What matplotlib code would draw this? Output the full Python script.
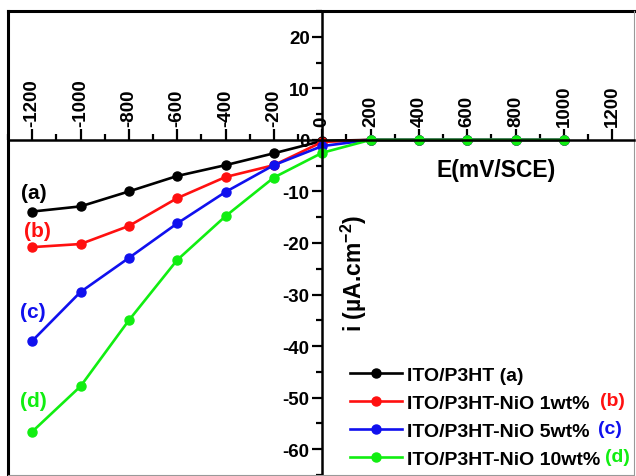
import matplotlib
matplotlib.use("Agg")
import matplotlib.pyplot as plt
from matplotlib.lines import Line2D
from matplotlib.ticker import MultipleLocator

plt.rcParams['font.family'] = ['Liberation Sans', 'DejaVu Sans']
plt.rcParams['font.weight'] = 'bold'
plt.rcParams['axes.unicode_minus'] = False
plt.rcParams['mathtext.fontset'] = 'custom'
plt.rcParams['mathtext.rm'] = 'Liberation Sans:bold'
plt.rcParams['mathtext.bf'] = 'Liberation Sans:bold'

# potential (mV/SCE) and current density (uA/cm2) for each film
potential = [-1200, -1000, -800, -600, -400, -200, 0, 200, 400, 600, 800, 1000]
i_p3ht = [-13.9, -12.9, -10.0, -7.0, -4.9, -2.6, -0.2, 0, 0, 0, 0, 0]
i_nio1 = [-20.8, -20.2, -16.7, -11.3, -7.2, -4.9, -0.4, 0, 0, 0, 0, 0]
i_nio5 = [-39.0, -29.5, -22.9, -16.2, -10.1, -4.9, -1.2, 0, 0, 0, 0, 0]
i_nio10 = [-56.6, -47.8, -35.0, -23.3, -14.8, -7.3, -2.5, 0, 0, 0, 0, 0]

labels = ['ITO/P3HT (a)', 'ITO/P3HT-NiO 1wt%', 'ITO/P3HT-NiO 5wt%', 'ITO/P3HT-NiO 10wt%']
tags = ['(a)', '(b)', '(c)', '(d)']
colors = ['#000000', '#ff1010', '#1010ee', '#11ee11']

fig = plt.figure(figsize=(6.36, 4.77), dpi=100)
ax = fig.add_axes([8 / 636, 1 / 477, 626 / 636, 464 / 477])

series = [i_p3ht, i_nio1, i_nio5, i_nio10]
for ys, lab, col in zip(series, labels, colors):
    ax.plot(potential, ys, '-o', color=col, lw=1.9, ms=6.5, mec=col, label=lab)

ax.set_xlim(-1300, 1290)
ax.set_ylim(-65, 25)

# axes crossing at the origin
ax.spines['left'].set_position(('data', 0))
ax.spines['top'].set_position(('data', 0))
ax.spines['left'].set_linewidth(1.8)
ax.spines['top'].set_linewidth(1.8)
ax.spines['right'].set_color('#999999')
ax.spines['right'].set_linewidth(0.8)
ax.spines['bottom'].set_color('#999999')
ax.spines['bottom'].set_linewidth(0.8)
ax.add_line(Line2D([0, 0], [0, 1], transform=ax.transAxes, color='k', lw=2.2, clip_on=False))
ax.add_line(Line2D([0, 1], [1, 1], transform=ax.transAxes, color='k', lw=2.2, clip_on=False))

ax.xaxis.set_ticks_position('top')
ax.yaxis.set_ticks_position('left')
ax.xaxis.set_minor_locator(MultipleLocator(100))
ax.yaxis.set_minor_locator(MultipleLocator(5))
ax.set_xticks(range(-1200, 1201, 200))
ax.set_yticks(range(-60, 21, 10))
ax.tick_params(axis='x', which='major', direction='out', length=8, width=1.6,
               labelsize=13.5, labelrotation=90, pad=2)
ax.tick_params(axis='x', which='minor', direction='out', length=4, width=1.6)
ax.tick_params(axis='y', which='major', direction='out', length=7, width=1.6,
               labelsize=13.5, pad=2)
ax.tick_params(axis='y', which='minor', direction='out', length=4, width=1.6)

fig.text(496 / 636, 1 - 170 / 477, 'E(mV/SCE)', fontsize=16.5, fontweight='bold',
         ha='center', va='center')
fig.text(354 / 636, 1 - 273 / 477, 'i (µA.cm$^{-2}$)', fontsize=16.5, fontweight='bold',
         rotation=90, ha='center', va='center')

# curve tags on the left
tag_pos = [(-1192, -10.2), (-1177, -17.6), (-1198, -33.3), (-1194, -50.5)]
for t, (tx, ty), col in zip(tags, tag_pos, colors):
    ax.text(tx, ty, t, color=col, fontsize=15, fontweight='bold', ha='center', va='center')

leg = ax.legend(loc='upper left', bbox_to_anchor=(350 / 636, 1 - 367 / 477),
                bbox_transform=fig.transFigure, frameon=False, fontsize=14,
                handlelength=2.68, handletextpad=0.26, labelspacing=0.54,
                borderpad=0, borderaxespad=0)

# coloured tags after the legend entries
for t, (lx, ly), col in zip(tags[1:], [(612, 402), (610, 430), (617, 458)], colors[1:]):
    fig.text(lx / 636, 1 - ly / 477, t, color=col, fontsize=14, fontweight='bold',
             ha='center', va='center')

fig.savefig('out.png', dpi=100)
